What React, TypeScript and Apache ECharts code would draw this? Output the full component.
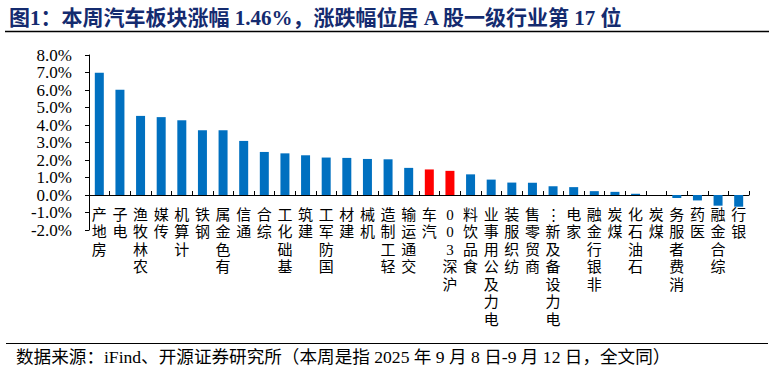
import React, { useEffect, useRef } from "react";
import * as echarts from "echarts";

const categories: string[] = [
  "房地产", "电子", "农林牧渔", "传媒", "计算机", "钢铁", "有色金属", "通信",
  "综合", "基础化工", "建筑", "国防军工", "建材", "机械", "轻工制造", "交通运输",
  "汽车", "沪深300", "食品饮料", "电力及公用事业", "纺织服装", "商贸零售",
  "电力设备及新能源", "家电", "非银行金融", "煤炭", "石油石化", "煤炭",
  "消费者服务", "医药", "综合金融", "银行",
];

const changePct: number[] = [
  6.98, 6.01, 4.52, 4.45, 4.27, 3.70, 3.70, 3.09,
  2.46, 2.38, 2.27, 2.14, 2.12, 2.06, 2.04, 1.55,
  1.46, 1.38, 1.18, 0.88, 0.71, 0.70,
  0.50, 0.45, 0.22, 0.18, 0.07, 0.0,
  -0.17, -0.31, -0.61, -0.67,
];

const highlighted: string[] = ["汽车", "沪深300"];

const yMin = -2;
const yMax = 8;
const yInterval = 1;

const titleText = "图1：本周汽车板块涨幅 1.46%，涨跌幅位居 A 股一级行业第 17 位";
const sourceText = "数据来源：iFind、开源证券研究所（本周是指 2025 年 9 月 8 日-9 月 12 日，全文同）";

const BLUE = "#0070C0";
const RED = "#FF0000";
const SERIF = '"Liberation Serif", "Times New Roman", "Noto Sans CJK SC", serif';

const GRID_TOP = 55;
const GRID_BOTTOM = 145;
const CHART_H = 375;

function verticalLabel(name: string): string {
  let chars = Array.from(name);
  if (chars.length > 7) {
    chars = chars.slice(0, 6).concat(["⋮"]);
  }
  return chars.reverse().join("\n");
}

export default function App() {
  const ref = useRef<HTMLDivElement>(null);

  useEffect(() => {
    if (!ref.current) return;
    const chart = echarts.init(ref.current, undefined, { renderer: "svg" });
    const plotH = CHART_H - GRID_TOP - GRID_BOTTOM;
    const zeroOffset = -((0 - yMin) / (yMax - yMin)) * plotH;
    const option: any = {
      animation: false,
      backgroundColor: "#ffffff",
      grid: {
        left: 89,
        right: 25,
        top: GRID_TOP,
        bottom: GRID_BOTTOM,
        containLabel: false,
        outerBoundsMode: "none",
      },
      xAxis: {
        type: "category",
        data: categories,
        boundaryGap: true,
        position: "bottom",
        offset: zeroOffset,
        axisLine: { onZero: false, lineStyle: { color: "#000", width: 1 } },
        axisTick: { show: true, inside: true, length: 4, lineStyle: { color: "#000" } },
        axisLabel: {
          interval: 0,
          margin: 11,
          fontSize: 15,
          lineHeight: 17.5,
          color: "#000",
          fontFamily: SERIF,
          formatter: (_v: string, idx: number) => verticalLabel(categories[idx]),
        },
        splitLine: { show: false },
      },
      yAxis: {
        type: "value",
        min: yMin,
        max: yMax,
        interval: yInterval,
        axisLine: { show: true, lineStyle: { color: "#000", width: 1 } },
        axisTick: { show: true, inside: false, length: 4, lineStyle: { color: "#000" } },
        axisLabel: {
          margin: 17,
          fontSize: 17,
          color: "#000",
          fontFamily: SERIF,
          formatter: (v: number) => v.toFixed(1) + "%",
        },
        splitLine: { show: false },
      },
      series: [
        {
          type: "bar",
          barWidth: 9,
          data: changePct.map((v, i) => ({
            value: v,
            itemStyle: { color: highlighted.includes(categories[i]) ? RED : BLUE },
          })),
        },
      ],
      graphic: [
        {
          type: "text",
          left: 9,
          top: 7,
          style: {
            text: titleText,
            fontSize: 21,
            fontWeight: "bold",
            fontFamily: SERIF,
            fill: "#142b6f",
          },
        },
        {
          type: "line",
          shape: { x1: 5, y1: 31.5, x2: 769, y2: 31.5 },
          style: { stroke: "#000", lineWidth: 1.5 },
        },
        {
          type: "line",
          shape: { x1: 6, y1: 343.5, x2: 768, y2: 343.5 },
          style: { stroke: "#000", lineWidth: 1.2 },
        },
        {
          type: "text",
          left: 16,
          top: 348,
          style: {
            text: sourceText,
            fontSize: 17.6,
            fontFamily: SERIF,
            fill: "#000",
          },
        },
      ],
    };
    chart.setOption(option);
    return () => chart.dispose();
  }, []);

  return (
    <div
      ref={ref}
      style={{ position: "fixed", left: 0, top: 0, width: 774, height: 375, background: "#fff" }}
    />
  );
}
